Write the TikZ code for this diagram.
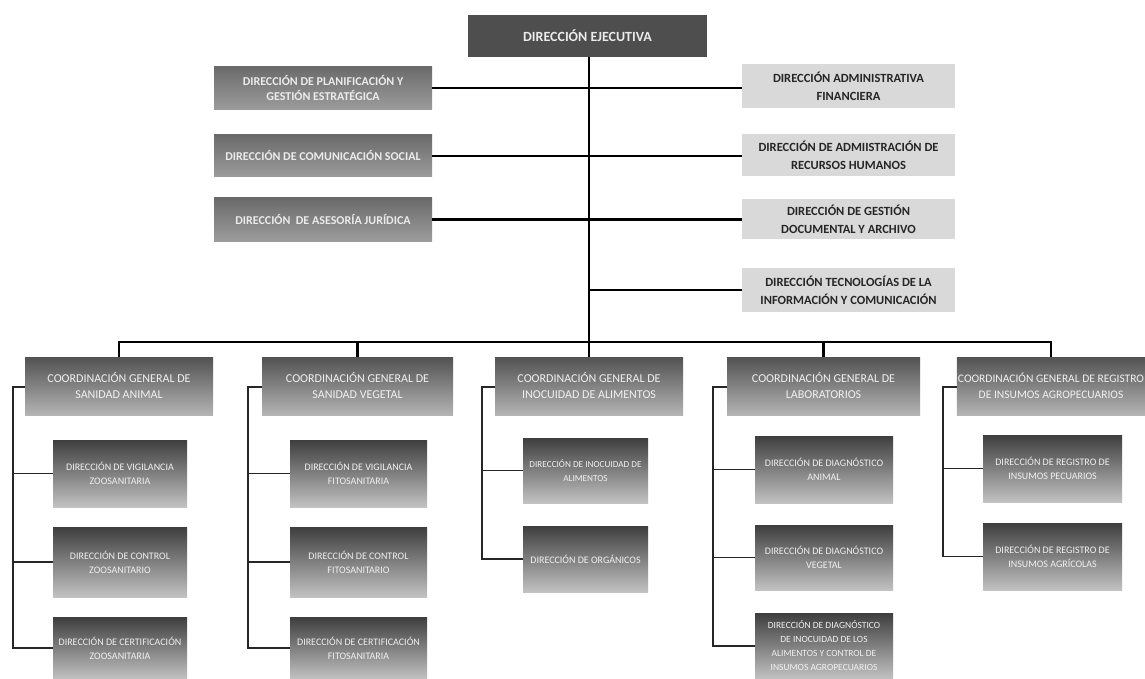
\documentclass[tikz,border=0pt]{standalone}
\usepackage{fontspec}
\setmainfont{Carlito}
\begin{document}
\begin{tikzpicture}[x=1pt,y=-1pt,
  every node/.style={inner sep=1pt, align=center},
  exec/.style={draw=none, fill=execgray, text=white!92!black, font=\fontsize{14}{16}\selectfont\bfseries},
  leftbox/.style={draw=none, top color=lefttop, bottom color=leftbot, text=white!92!black, minimum width=218pt, font=\fontsize{12}{15}\selectfont\bfseries},
  rightbox/.style={draw=none, fill=rightgray, text=black!85, minimum width=213pt, font=\fontsize{12.5}{18}\selectfont\bfseries},
  coordbox/.style={draw=none, top color=coordtop, bottom color=coordbot, text=white!94!black, minimum height=58pt, font=\fontsize{12}{16}\selectfont},
  subbox/.style={draw=none, top color=subtop, bottom color=subbot, text=white!94!black, font=\fontsize{10}{14}\selectfont},
  mainline/.style={line width=2.2pt, black},
  thinline/.style={line width=1.1pt, black!85}
]
\definecolor{execgray}{HTML}{4E4E4E}
\definecolor{lefttop}{HTML}{6A6A6A}
\definecolor{leftbot}{HTML}{9C9C9C}
\definecolor{rightgray}{HTML}{D9D9D9}
\definecolor{coordtop}{HTML}{525252}
\definecolor{coordbot}{HTML}{B4B4B4}
\definecolor{subtop}{HTML}{3E3E3E}
\definecolor{subbot}{HTML}{C2C2C2}

\useasboundingbox[fill=white] (0,0) rectangle (1145,679);

% top level
\node[exec, minimum width=239pt, minimum height=42pt] (eje) at (587.5,36) {DIRECCIÓN EJECUTIVA};

\node[leftbox, minimum height=43pt] (plan) at (323,88) {DIRECCIÓN DE PLANIFICACIÓN Y\\GESTIÓN ESTRATÉGICA};
\node[leftbox, minimum height=42pt] (com) at (323,156) {DIRECCIÓN DE COMUNICACIÓN SOCIAL};
\node[leftbox, minimum height=43pt] (ase) at (323,219.5) {DIRECCIÓN \ DE ASESORÍA JURÍDICA};

\node[rightbox, minimum height=44pt] (af) at (848.5,86) {DIRECCIÓN ADMINISTRATIVA\\FINANCIERA};
\node[rightbox, minimum height=42pt] (rh) at (848.5,155) {DIRECCIÓN DE ADMIISTRACIÓN DE\\RECURSOS HUMANOS};
\node[rightbox, minimum height=40pt] (gd) at (848.5,219) {DIRECCIÓN DE GESTIÓN\\DOCUMENTAL Y ARCHIVO};
\node[rightbox, minimum height=44pt] (tec) at (848.5,290) {DIRECCIÓN TECNOLOGÍAS DE LA\\INFORMACIÓN Y COMUNICACIÓN};

% coordination row
\node[coordbox, minimum width=188pt] (sa) at (119,386) {COORDINACIÓN GENERAL DE\\SANIDAD ANIMAL};
\node[coordbox, minimum width=191pt] (sv) at (357.5,386) {COORDINACIÓN GENERAL DE\\SANIDAD VEGETAL};
\node[coordbox, minimum width=188pt] (ia) at (589,386) {COORDINACIÓN GENERAL DE\\INOCUIDAD DE ALIMENTOS};
\node[coordbox, minimum width=193pt] (lab) at (823.5,386) {COORDINACIÓN GENERAL DE\\LABORATORIOS};
\node[coordbox, minimum width=188pt, font=\fontsize{11.5}{16}\selectfont] (reg) at (1051,386) {COORDINACIÓN GENERAL DE REGISTRO\\DE INSUMOS AGROPECUARIOS};

% sanidad animal
\node[subbox, minimum width=134pt, minimum height=67pt] (sa1) at (120,473.5) {DIRECCIÓN DE VIGILANCIA\\ZOOSANITARIA};
\node[subbox, minimum width=134pt, minimum height=70pt] (sa2) at (120,562) {DIRECCIÓN DE CONTROL\\ZOOSANITARIO};
\node[subbox, minimum width=134pt, minimum height=62pt] (sa3) at (120,648) {DIRECCIÓN DE CERTIFICACIÓN\\ZOOSANITARIA};
% sanidad vegetal
\node[subbox, minimum width=137pt, minimum height=67pt] (sv1) at (358.5,473.5) {DIRECCIÓN DE VIGILANCIA\\FITOSANITARIA};
\node[subbox, minimum width=137pt, minimum height=70pt] (sv2) at (358.5,562) {DIRECCIÓN DE CONTROL\\FITOSANITARIO};
\node[subbox, minimum width=137pt, minimum height=62pt] (sv3) at (358.5,648) {DIRECCIÓN DE CERTIFICACIÓN\\FITOSANITARIA};
% inocuidad
\node[subbox, minimum width=125pt, minimum height=65pt, font=\fontsize{9.2}{14}\selectfont] (ia1) at (585.5,470.5) {DIRECCIÓN DE INOCUIDAD DE\\ALIMENTOS};
\node[subbox, minimum width=125pt, minimum height=66pt] (ia2) at (585.5,559) {DIRECCIÓN DE ORGÁNICOS};
% laboratorios
\node[subbox, minimum width=138pt, minimum height=67pt] (lab1) at (824,469.5) {DIRECCIÓN DE DIAGNÓSTICO\\ANIMAL};
\node[subbox, minimum width=138pt, minimum height=65pt] (lab2) at (824,557.5) {DIRECCIÓN DE DIAGNÓSTICO\\VEGETAL};
\node[subbox, minimum width=138pt, minimum height=66pt, font=\fontsize{9.5}{14}\selectfont] (lab3) at (824,646) {DIRECCIÓN DE DIAGNÓSTICO\\DE INOCUIDAD DE LOS\\ALIMENTOS Y CONTROL DE\\INSUMOS AGROPECUARIOS};
% registro
\node[subbox, minimum width=139pt, minimum height=67pt] (reg1) at (1052.5,468.5) {DIRECCIÓN DE REGISTRO DE\\INSUMOS PECUARIOS};
\node[subbox, minimum width=139pt, minimum height=67pt] (reg2) at (1052.5,556.5) {DIRECCIÓN DE REGISTRO DE\\INSUMOS AGRÍCOLAS};

% trunk and bus
\coordinate (bus) at (589,342);
\draw[mainline] (eje.south -| bus) -- (ia.north);
\draw[mainline] (sa.north) |- (bus) -| (reg.north);
\draw[mainline] (sv.north) -- (sv.north |- bus);
\draw[mainline] (lab.north) -- (lab.north |- bus);

% staff lines
\draw[mainline] (plan.east) -- (plan.east -| af.west);
\draw[mainline] (com.east) -- (com.east -| rh.west);
\draw[mainline] (ase.east) -- (ase.east -| gd.west);
\draw[mainline] (tec.west -| bus) -- (tec.west);

% brackets
\coordinate (saB) at (13,387);
\draw[thinline] (sa.west |- saB) -- (saB) |- (sa3.west);
\draw[thinline] (saB |- sa1.west) -- (sa1.west);
\draw[thinline] (saB |- sa2.west) -- (sa2.west);

\coordinate (svB) at (248,387);
\draw[thinline] (sv.west |- svB) -- (svB) |- (sv3.west);
\draw[thinline] (svB |- sv1.west) -- (sv1.west);
\draw[thinline] (svB |- sv2.west) -- (sv2.west);

\coordinate (iaB) at (482,387);
\draw[thinline] (ia.west |- iaB) -- (iaB) |- (ia2.west);
\draw[thinline] (iaB |- ia1.west) -- (ia1.west);

\coordinate (labB) at (713,387);
\draw[thinline] (lab.west |- labB) -- (labB) |- (lab3.west);
\draw[thinline] (labB |- lab1.west) -- (lab1.west);
\draw[thinline] (labB |- lab2.west) -- (lab2.west);

\coordinate (regB) at (943,387);
\draw[thinline] (reg.west |- regB) -- (regB) |- (reg2.west);
\draw[thinline] (regB |- reg1.west) -- (reg1.west);
\end{tikzpicture}
\end{document}
